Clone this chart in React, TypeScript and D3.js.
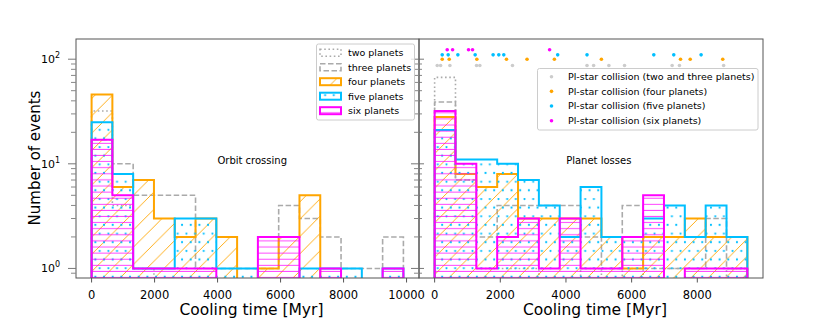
import * as d3 from "d3";

// histogram counts per bin (15 bins per panel)
const crossBinWidth = 660; // Myr, 0..9900
const lossBinWidth = 635; // Myr, 0..9525

const crossTwo = [32, 4, 1, 0, 0, 0, 0, 0, 0, 0, 0, 0, 0, 0, 0];
const crossThree = [17, 10, 5, 5, 5, 1, 1, 1, 1, 4, 3, 2, 1, 1, 2];
const crossFour = [46, 6, 7, 3, 2, 3, 2, 0, 1, 2, 5, 0, 0, 0, 0];
const crossFive = [25, 8, 1, 1, 3, 3, 1, 1, 0, 0, 1, 1, 1, 0, 1];
const crossSix = [17, 5, 1, 1, 1, 1, 0, 0, 2, 2, 0, 1, 0, 0, 1];

const lossTwo = [67, 7, 1, 1, 1, 0, 0, 1, 0, 1, 0, 1, 0, 0, 1];
const lossThree = [39, 7, 2, 4, 4, 4, 4, 2, 1, 4, 1, 1, 1, 3, 1];
const lossFour = [28, 8, 6, 8, 3, 3, 3, 3, 2, 1, 2, 2, 3, 2, 2];
const lossFive = [21, 11, 11, 10, 7, 4, 2, 6, 2, 2, 3, 4, 2, 4, 2];
const lossSix = [32, 10, 1, 2, 3, 1, 3, 1, 1, 2, 5, 0, 1, 1, 1];

// planet-star collision times [Myr], drawn as dots above the histograms
const starTwoThree = [79, 182, 465, 1277, 1377, 2371, 4641, 4842, 5307, 5784, 7234, 7456, 8802];
const starFour = [231, 444, 1286, 2188, 2815, 3647, 5079, 7489, 7784, 8775];
const starFive = [231, 413, 708, 1234, 1781, 1954, 2106, 3748, 4641, 6675, 7283, 8116];
const starSix = [383, 547, 1033, 1155, 3502];
const starLevels = [87, 100, 110, 123];

const crossTicks = [0, 2000, 4000, 6000, 8000, 10000];
const lossTicks = [0, 2000, 4000, 6000, 8000];
const yMajor = [1, 10, 100];
const yMinor = [0.9, 2, 3, 4, 5, 6, 7, 8, 9, 20, 30, 40, 50, 60, 70, 80, 90];

const legendLeft = ["two planets", "three planets", "four planets", "five planets", "six planets"];
const legendRight = [
  "Pl-star collision (two and three planets)",
  "Pl-star collision (four planets)",
  "Pl-star collision (five planets)",
  "Pl-star collision (six planets)",
];

const ORANGE = "#ffa500";
const CYAN = "#00bfff";
const MAGENTA = "#ff00ff";
const GRAY = "#aaaaaa";
const FONT = "DejaVu Sans, sans-serif";

const top = 39;
const bottom = 278;

const y = d3.scaleLog().domain([0.81, 156]).range([bottom, top]);

function stepPath(counts, width, x, closed) {
  const base = bottom + 20;
  const yv = (v) => (v > 0 ? y(v) : base);
  let d = `M${x(0)},${base}`;
  counts.forEach((c, i) => {
    d += `L${x(i * width)},${yv(c)}L${x((i + 1) * width)},${yv(c)}`;
  });
  d += `L${x(counts.length * width)},${base}`;
  return closed ? d + "Z" : d;
}

function Panel({ id, x0, x1, x, width, two, three, four, five, six, ticks, title, leftLabels, rightTicks }) {
  const clip = `clip-${id}`;
  return (
    <g>
      <clipPath id={clip}>
        <rect x={x0} y={top} width={x1 - x0} height={bottom - top} />
      </clipPath>
      <g clipPath={`url(#${clip})`}>
        <path d={stepPath(two, width, x, false)} fill="none" stroke={GRAY} strokeWidth={1.6} strokeDasharray="1.6,2.6" />
        <path d={stepPath(three, width, x, false)} fill="none" stroke={GRAY} strokeWidth={1.6} strokeDasharray="5.5,2.5" />
        <path d={stepPath(four, width, x, true)} fill="url(#hatch-orange)" stroke="none" />
        <path d={stepPath(four, width, x, false)} fill="none" stroke={ORANGE} strokeWidth={2} />
        <path d={stepPath(five, width, x, true)} fill="url(#hatch-cyan)" stroke="none" />
        <path d={stepPath(five, width, x, false)} fill="none" stroke={CYAN} strokeWidth={2} />
        <path d={stepPath(six, width, x, true)} fill="url(#hatch-magenta)" stroke="none" />
        <path d={stepPath(six, width, x, false)} fill="none" stroke={MAGENTA} strokeWidth={2} />
      </g>
      <rect x={x0} y={top} width={x1 - x0} height={bottom - top} fill="none" stroke="#555" strokeWidth={1} />
      {/* y ticks, outward */}
      {yMajor.map((v) => (
        <g key={"M" + v}>
          <line x1={x0 - 8} x2={x0} y1={y(v)} y2={y(v)} stroke="#777" />
          {rightTicks && <line x1={x1} x2={x1 + 5} y1={y(v)} y2={y(v)} stroke="#777" />}
        </g>
      ))}
      {yMinor.map((v) => (
        <g key={"m" + v}>
          <line x1={x0 - 5} x2={x0} y1={y(v)} y2={y(v)} stroke="#888" />
          {rightTicks && <line x1={x1} x2={x1 + 3} y1={y(v)} y2={y(v)} stroke="#888" />}
        </g>
      ))}
      {leftLabels &&
        yMajor.map((v, i) => (
          <text key={"l" + v} x={60} y={y(v) + 4} textAnchor="end" fontFamily={FONT} fontSize={11}>
            10
            <tspan dy={-5} fontSize={8}>
              {i}
            </tspan>
          </text>
        ))}
      {ticks.map((t) => (
        <g key={"x" + t}>
          <line x1={x(t)} x2={x(t)} y1={bottom} y2={bottom + 4.5} stroke="#555" />
          <text x={x(t)} y={298.5} textAnchor="middle" fontFamily={FONT} fontSize={11.5}>
            {t}
          </text>
        </g>
      ))}
      <text x={(x0 + x1) / 2 + 4} y={315} textAnchor="middle" fontFamily={FONT} fontSize={15.5}>
        Cooling time [Myr]
      </text>
      <text x={x(title.at)} y={164} textAnchor="middle" fontFamily={FONT} fontSize={10}>
        {title.text}
      </text>
    </g>
  );
}

export default function App() {
  const xCross = d3.scaleLinear().domain([-495, 10395]).range([76, 419]);
  const xLoss = d3.scaleLinear().domain([-476, 10001]).range([419, 763]);

  const legendStyles = [
    { stroke: GRAY, dash: "1.6,2.6", fill: "none" },
    { stroke: GRAY, dash: "5.5,2.5", fill: "none" },
    { stroke: ORANGE, dash: null, fill: "url(#hatch-orange)" },
    { stroke: CYAN, dash: null, fill: "url(#hatch-cyan)" },
    { stroke: MAGENTA, dash: null, fill: "url(#hatch-magenta)" },
  ];
  const starSets = [starTwoThree, starFour, starFive, starSix];
  const starColors = ["#cccccc", ORANGE, CYAN, MAGENTA];

  return (
    <svg width={818} height={327} style={{ position: "absolute", left: 0, top: 0, background: "#fff" }}>
      <defs>
        <pattern id="hatch-orange" patternUnits="userSpaceOnUse" width={17.3} height={17.3}>
          <path d="M-2,19.3L19.3,-2M-4,4L4,-4M13.3,21.3L21.3,13.3" stroke={ORANGE} strokeWidth={0.9} />
        </pattern>
        <pattern id="hatch-cyan" patternUnits="userSpaceOnUse" width={8.67} height={17.3}>
          <circle cx={0} cy={0} r={1.1} fill={CYAN} />
          <circle cx={8.67} cy={0} r={1.1} fill={CYAN} />
          <circle cx={4.33} cy={8.67} r={1.1} fill={CYAN} />
          <circle cx={0} cy={17.3} r={1.1} fill={CYAN} />
          <circle cx={8.67} cy={17.3} r={1.1} fill={CYAN} />
        </pattern>
        <pattern id="hatch-magenta" patternUnits="userSpaceOnUse" width={10} height={6.1}>
          <line x1={0} x2={10} y1={3} y2={3} stroke={MAGENTA} strokeWidth={1} opacity={0.75} />
        </pattern>
      </defs>

      <Panel
        id="cross"
        x0={76}
        x1={419}
        x={xCross}
        width={crossBinWidth}
        two={crossTwo}
        three={crossThree}
        four={crossFour}
        five={crossFive}
        six={crossSix}
        ticks={crossTicks}
        title={{ text: "Orbit crossing", at: 5100 }}
        leftLabels
        rightTicks
      />
      <Panel
        id="loss"
        x0={419}
        x1={763}
        x={xLoss}
        width={lossBinWidth}
        two={lossTwo}
        three={lossThree}
        four={lossFour}
        five={lossFive}
        six={lossSix}
        ticks={lossTicks}
        title={{ text: "Planet losses", at: 5000 }}
        leftLabels={false}
        rightTicks={false}
      />

      {starSets.map((set, i) =>
        set.map((t, j) => <circle key={i + "-" + j} cx={xLoss(t)} cy={y(starLevels[i])} r={1.8} fill={starColors[i]} />)
      )}

      <text transform="translate(40,158) rotate(-90)" textAnchor="middle" fontFamily={FONT} fontSize={15}>
        Number of events
      </text>

      {/* left legend */}
      <rect x={316.5} y={44} width={98} height={76} rx={2} fill="#fff" fillOpacity={0.8} stroke="#ccc" />
      {legendLeft.map((label, i) => {
        const cy = 52.7 + i * 14.5;
        const s = legendStyles[i];
        return (
          <g key={label}>
            <rect x={320} y={cy - 3.5} width={21} height={7} fill={s.fill} stroke={s.stroke} strokeWidth={s.dash ? 1.6 : 2} strokeDasharray={s.dash || undefined} />
            <text x={348} y={cy + 3.4} fontFamily={FONT} fontSize={9.5}>
              {label}
            </text>
          </g>
        );
      })}

      {/* right legend */}
      <rect x={537.5} y={68.5} width={220.5} height={61.5} rx={2} fill="#fff" fillOpacity={0.8} stroke="#ccc" />
      {legendRight.map((label, i) => {
        const cy = 76.7 + i * 14.67;
        return (
          <g key={label}>
            <circle cx={551.5} cy={cy} r={1.8} fill={starColors[i]} />
            <text x={568} y={cy + 3.4} fontFamily={FONT} fontSize={9.5}>
              {label}
            </text>
          </g>
        );
      })}
    </svg>
  );
}
